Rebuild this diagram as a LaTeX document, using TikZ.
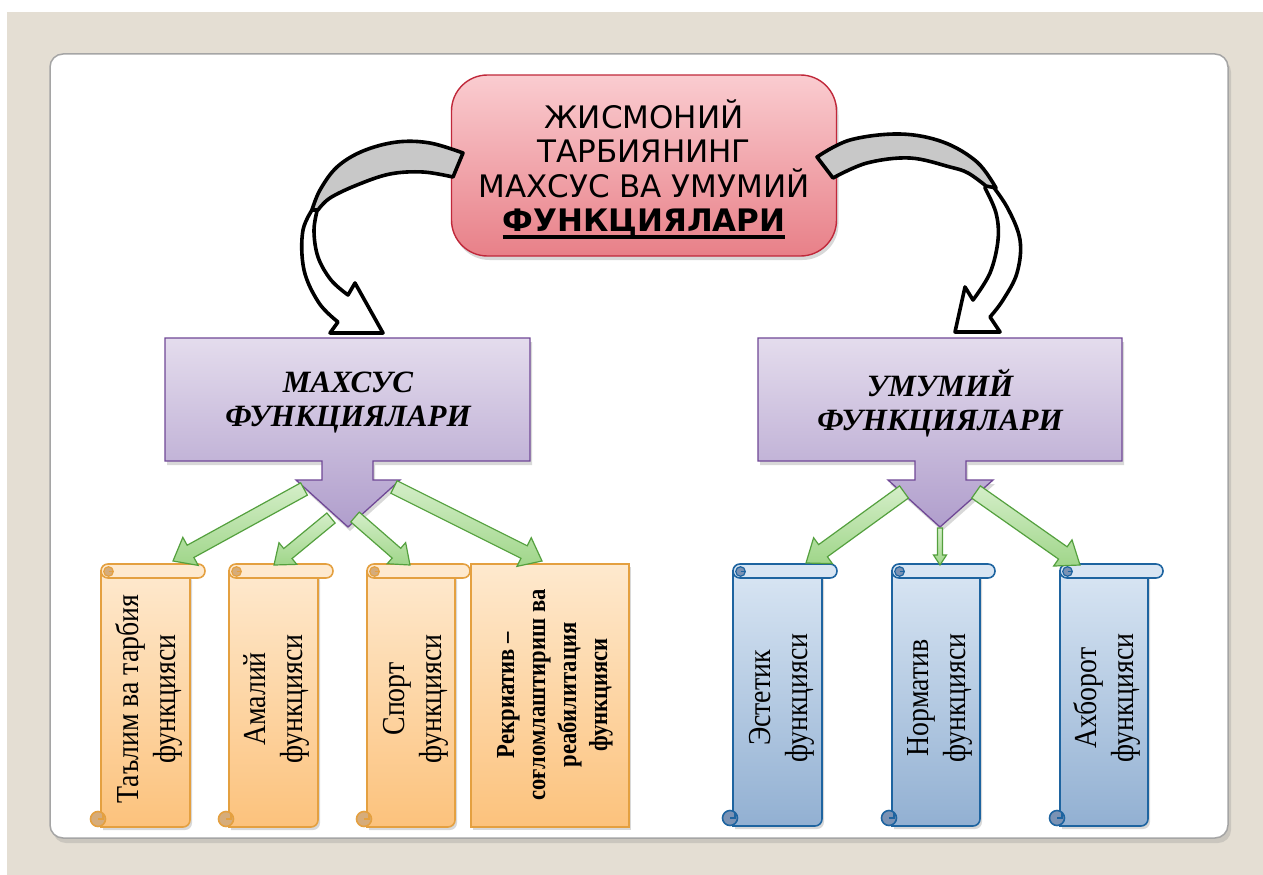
\documentclass[tikz,border=0pt]{standalone}
\usepackage{fontspec}
\setmainfont{Liberation Serif}
\newfontfamily\titlefont{DejaVu Sans}
\newfontfamily\scrollfont{Liberation Serif}[FakeStretch=0.87]
\usetikzlibrary{calc,shadows}
\definecolor{bgbeige}{RGB}{228,222,211}
\definecolor{panelline}{RGB}{165,165,165}
\definecolor{titletop}{RGB}{250,204,208}
\definecolor{titlebot}{RGB}{232,128,136}
\definecolor{titleline}{RGB}{192,40,58}
\definecolor{arrowgray}{RGB}{200,200,200}
\definecolor{purtop}{RGB}{228,220,237}
\definecolor{purbot}{RGB}{176,158,204}
\definecolor{purline}{RGB}{112,72,150}
\definecolor{grtop}{RGB}{212,238,200}
\definecolor{grbot}{RGB}{160,214,138}
\definecolor{grline}{RGB}{84,160,62}
\definecolor{ortop}{RGB}{254,233,206}
\definecolor{orbot}{RGB}{252,194,124}
\definecolor{orline}{RGB}{228,160,64}
\definecolor{orcurl}{RGB}{214,172,122}
\definecolor{bltop}{RGB}{216,229,243}
\definecolor{blbot}{RGB}{146,176,210}
\definecolor{blline}{RGB}{30,100,160}
\definecolor{blcurl}{RGB}{122,146,180}
\newcommand{\thickul}[1]{\setbox0=\hbox{#1}\rlap{\rule[-7pt]{\wd0}{3.2pt}}\box0}
\newcommand{\vscroll}[8]{%
  \path[draw=#7, line width=1.6pt, top color=#5, bottom color=#6, scrollshadow]
    (#1,#3+7) -- (#1,#4) [rounded corners=7pt] -- (#2-15,#4) -- (#2-15,#3+7) [sharp corners] -- cycle;
  \draw[#7, line width=1.6pt, fill=#5, rounded corners=6.9pt] (#1,#3) rectangle (#2,#3+14);
  \draw[#7, line width=1.2pt, fill=#8] (#1+7.5,#3+7.5) circle (4.8pt);
  \draw[#7, line width=1.2pt] (#1+7.5,#3+7.5) -- (#1+12,#3+7.5);
  \draw[#7, line width=1.6pt, fill=#8] (#1-3,#4-8) circle (7.5pt);
  \draw[#7, line width=1.2pt] (#1-3,#4-8) -- (#1+2,#4-8) -- (#1+2,#4-13);
}
\newcommand{\blockarrow}[5]{%
  \coordinate (#1-hb) at ($(#2)!#5!(#1)$);
  \draw[greenarrow] ($(#1)!#3!90:(#2)$) -- ($(#1-hb)!#3!-90:(#1)$) -- ($(#1-hb)!#4!-90:(#1)$)
    -- (#2) -- ($(#1-hb)!#4!90:(#1)$) -- ($(#1-hb)!#3!90:(#1)$) -- ($(#1)!#3!-90:(#2)$) -- cycle;
}
\begin{document}
\begin{tikzpicture}[x=1pt,y=-1pt,
  panel/.style={draw=panelline, fill=white, line width=1.5pt, rounded corners=13pt,
    drop shadow={opacity=0.25, shadow xshift=3pt, shadow yshift=-5pt}},
  titlebox/.style={draw=titleline, line width=1.4pt, rounded corners=36pt, top color=titletop,
    bottom color=titlebot, minimum width=385pt, minimum height=181pt,
    drop shadow={opacity=0.3, shadow xshift=2pt, shadow yshift=-4pt}},
  titletext/.style={font=\titlefont\fontsize{31}{34.5}\selectfont, align=center, inner sep=0pt},
  curvearrow/.style={draw=black, line width=3.6pt, line join=round},
  callout/.style={draw=purline, line width=1.3pt, top color=purtop, bottom color=purbot,
    drop shadow={opacity=0.3, shadow xshift=2pt, shadow yshift=-4pt}},
  calltext/.style={font=\bfseries\itshape\fontsize{31}{34}\selectfont, align=center, inner sep=0pt},
  scrollshadow/.style={drop shadow={opacity=0.3, shadow xshift=2pt, shadow yshift=-3pt}},
  scrolltext/.style={font=\scrollfont\fontsize{32}{37}\selectfont, align=center, rotate=90, inner sep=0pt},
  boldscrolltext/.style={font=\scrollfont\bfseries\fontsize{26}{31}\selectfont, align=center, rotate=90, inner sep=0pt},
  greenarrow/.style={draw=grline, line width=1.2pt, top color=grtop, bottom color=grbot, line join=miter}
]
\useasboundingbox (0,0) rectangle (1263,875);
\fill[white] (0,0) rectangle (1263,875);
\fill[bgbeige] (7,12) rectangle (1263,875);
\draw[panel] (50,54) rectangle (1228,838);

% title
\node[titlebox] (title) at (644,165.5) {};
\node[titletext] (titletext) at (644,169) {ЖИСМОНИЙ\\ТАРБИЯНИНГ\\МАХСУС ВА УМУМИЙ\\\thickul{\bfseries ФУНКЦИЯЛАРИ}};

% left curved arrow
\draw[curvearrow, fill=white] plot[smooth, tension=0.6] coordinates {(316,204) (303,230) (304,270) (319,303) (338,322)}
  -- (330,333) -- (383,333) -- (355,283)
  -- plot[smooth, tension=0.6] coordinates {(348,295) (331,280) (318,257) (314,230) (318,207)} -- cycle;
\draw[curvearrow, fill=arrowgray] plot[smooth, tension=0.6] coordinates {(463,153) (430,143) (397,142) (363,151) (337,167) (320,190) (312,210)}
  -- plot[smooth, tension=0.6] coordinates {(318,210) (330,198) (357,185) (390,174) (423,172) (453,177)} -- cycle;

% right curved arrow
\draw[curvearrow, fill=white] plot[smooth, tension=0.6] coordinates {(988,180) (1007,207) (1020,240) (1017,273) (1003,300) (990,317)}
  -- (1000,332) -- (955,332) -- (965,287)
  -- plot[smooth, tension=0.6] coordinates {(973,300) (990,273) (998,240) (996,213) (985,188)} -- cycle;
\draw[curvearrow, fill=arrowgray] plot[smooth, tension=0.6] coordinates {(817,157) (850,140) (900,134) (943,142) (977,162) (996,188)}
  -- plot[smooth, tension=0.6] coordinates {(986,186) (968,173) (950,167) (910,158) (867,163) (833,178)} -- cycle;

% purple callouts
\draw[callout] (165,338) -- (530,338) -- (530,461) -- (373,461) -- (373,480) -- (400,480) -- (348,527)
  -- (296,480) -- (322,480) -- (322,461) -- (165,461) -- cycle;
\node[calltext] (mtext) at (348,403) {МАХСУС\\ФУНКЦИЯЛАРИ};
\draw[callout] (758,338) -- (1122,338) -- (1122,461) -- (966,461) -- (966,480) -- (993,480) -- (940,527)
  -- (888,480) -- (915,480) -- (915,461) -- (758,461) -- cycle;
\node[calltext] (utext) at (940,403) {УМУМИЙ\\ФУНКЦИЯЛАРИ};

% orange scrolls
\vscroll{101}{205}{564}{827}{ortop}{orbot}{orline}{orcurl}
\vscroll{229}{333}{564}{827}{ortop}{orbot}{orline}{orcurl}
\vscroll{367}{470}{564}{827}{ortop}{orbot}{orline}{orcurl}
\path[draw=orline, line width=1.6pt, top color=ortop, bottom color=orbot, scrollshadow] (471,564) rectangle (629,827);

% blue scrolls
\vscroll{733}{837}{564}{826}{bltop}{blbot}{blline}{blcurl}
\vscroll{892}{995}{564}{826}{bltop}{blbot}{blline}{blcurl}
\vscroll{1060}{1163}{564}{826}{bltop}{blbot}{blline}{blcurl}

% scroll texts
\node[scrolltext] (s1) at (149,699) {Таълим ва тарбия\\функцияси};
\node[scrolltext] (s2) at (276,699) {Амалий\\функцияси};
\node[scrolltext] (s3) at (416,699) {Спорт\\функцияси};
\node[boldscrolltext] (s4) at (555,695) {Рекриатив –\\соғломлаштириш ва\\реабилитация\\функцияси};
\node[scrolltext] (b1) at (782,698) {Эстетик\\функцияси};
\node[scrolltext] (b2) at (940,698) {Норматив\\функцияси};
\node[scrolltext] (b3) at (1107,698) {Ахборот\\функцияси};

% green arrows
\coordinate (a1t) at (304,489); \coordinate (a1h) at (173,561);
\coordinate (a2t) at (331,518); \coordinate (a2h) at (274,565);
\coordinate (a3t) at (355,517); \coordinate (a3h) at (410,565);
\coordinate (a4t) at (394,487); \coordinate (a4h) at (542,561);
\coordinate (c1t) at (904,492); \coordinate (c1h) at (806,563);
\coordinate (c2t) at (940,528); \coordinate (c2h) at (940,565);
\coordinate (c3t) at (976,492); \coordinate (c3h) at (1080,565);
\blockarrow{a1t}{a1h}{7pt}{16pt}{20pt}
\blockarrow{a2t}{a2h}{6.5pt}{14pt}{18pt}
\blockarrow{a3t}{a3h}{6.5pt}{14pt}{18pt}
\blockarrow{a4t}{a4h}{7pt}{16pt}{20pt}
\blockarrow{c1t}{c1h}{7.5pt}{16pt}{21pt}
\blockarrow{c2t}{c2h}{2.5pt}{6.5pt}{10pt}
\blockarrow{c3t}{c3h}{7.5pt}{16pt}{21pt}
\end{tikzpicture}
\end{document}
